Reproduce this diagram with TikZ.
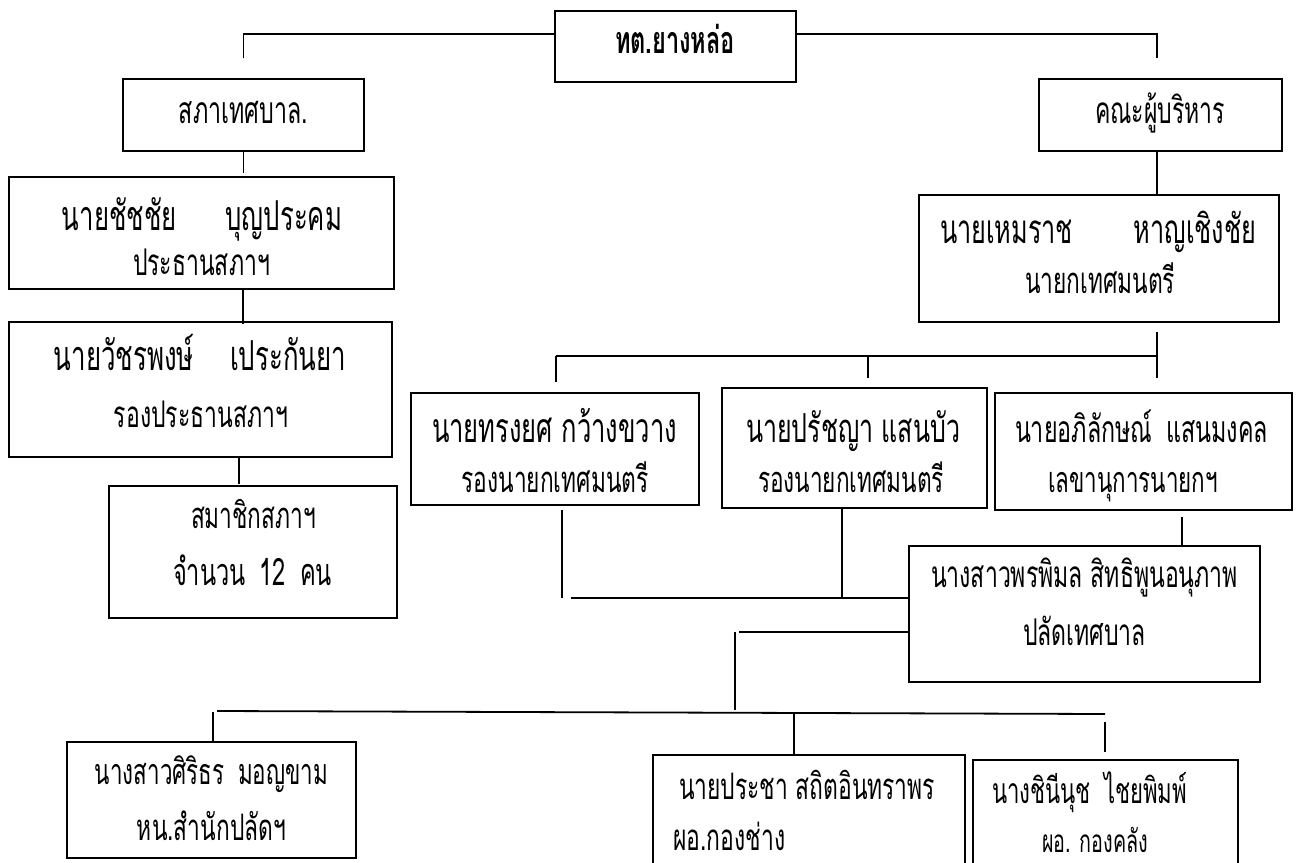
\documentclass[tikz,border=0pt]{standalone}
\usepackage{fontspec}
\usepackage{graphicx}
\newfontfamily\thai[Script=Thai]{Loma}
\newcommand{\fw}[2]{\scalebox{1}[1.6]{\resizebox{#1}{!}{#2}}}
\begin{document}
\begin{tikzpicture}[x=1pt,y=-1pt,
  box/.style={draw,line width=2.2pt,inner sep=0pt},
  conn/.style={line width=1.8pt},
  lbl/.style={font=\thai\fontsize{24}{28}\selectfont,inner sep=0pt,anchor=base}]
\useasboundingbox (0,0) rectangle (1298,862);
\clip (0,0) rectangle (1298,862);
% boxes
\node[box,minimum width=241pt,minimum height=71pt] (top) at (675.5,46.5) {};
\node[box,minimum width=241pt,minimum height=72pt] (sapha) at (243.5,115) {};
\node[box,minimum width=385pt,minimum height=112pt] (chat) at (201.5,233) {};
\node[box,minimum width=383pt,minimum height=135pt] (wat) at (200.5,389.5) {};
\node[box,minimum width=288pt,minimum height=132pt] (member) at (253,552) {};
\node[box,minimum width=243pt,minimum height=72pt] (khana) at (1160.5,115) {};
\node[box,minimum width=360pt,minimum height=127pt] (hem) at (1099,258.5) {};
\node[box,minimum width=288pt,minimum height=112pt] (song) at (555,449) {};
\node[box,minimum width=265pt,minimum height=120pt] (pratch) at (854.5,448) {};
\node[box,minimum width=297pt,minimum height=117pt] (aphi) at (1143.5,451.5) {};
\node[box,minimum width=351pt,minimum height=136pt] (phon) at (1084.5,614) {};
\node[box,minimum width=289pt,minimum height=116pt] (siri) at (211.5,800) {};
\node[box,minimum width=312pt,minimum height=145pt] (pracha) at (809,827.5) {};
\node[box,minimum width=265pt,minimum height=140pt] (chini) at (1105.5,830) {};
% labels
\node[lbl] (t0) at (675,53) {\fw{120pt}{\bfseries ทต.ยางหล่อ}};
\node[lbl] (t1) at (243.5,123) {\fw{129pt}{สภาเทศบาล.}};
\node[lbl] (t2) at (1160,123) {\fw{130pt}{คณะผู้บริหาร}};
\node[lbl] (t3) at (202,230) {\fw{280pt}{นายชัชชัย\hspace{1.9em}บุญประคม}};
\node[lbl] (t4) at (201.5,275) {\fw{137pt}{ประธานสภาฯ}};
\node[lbl] (t5) at (200,370) {\fw{292pt}{นายวัชรพงษ์\hspace{1.4em}เประกันยา}};
\node[lbl] (t6) at (201,427) {\fw{174pt}{รองประธานสภาฯ}};
\node[lbl] (t7) at (253.5,528) {\fw{125pt}{สมาชิกสภาฯ}};
\node[lbl] (t8) at (252.5,585) {\fw{159pt}{จำนวน\hspace{0.6em}12\hspace{0.6em}คน}};
\node[lbl] (t9) at (1098,243) {\fw{316pt}{นายเหมราช\hspace{2.4em}หาญเชิงชัย}};
\node[lbl] (t10) at (1100,293) {\fw{150pt}{นายกเทศมนตรี}};
\node[lbl] (t11) at (554.5,442) {\fw{245pt}{นายทรงยศ กว้างขวาง}};
\node[lbl] (t12) at (555,492) {\fw{187pt}{รองนายกเทศมนตรี}};
\node[lbl] (t13) at (853,442) {\fw{214pt}{นายปรัชญา แสนบัว}};
\node[lbl] (t14) at (851,492) {\fw{186pt}{รองนายกเทศมนตรี}};
\node[lbl] (t15) at (1141.5,442) {\fw{253pt}{นายอภิลักษณ์\hspace{0.6em}แสนมงคล}};
\node[lbl] (t16) at (1133,492) {\fw{170pt}{เลขานุการนายกฯ}};
\node[lbl] (t17) at (1084.5,587) {\fw{307pt}{นางสาวพรพิมล สิทธิพูนอนุภาพ}};
\node[lbl] (t18) at (1084.5,645) {\fw{123pt}{ปลัดเทศบาล}};
\node[lbl] (t19) at (211.5,784) {\fw{233pt}{นางสาวศิริธร\hspace{0.6em}มอญขาม}};
\node[lbl] (t20) at (211.5,840) {\fw{149pt}{หน.สำนักปลัดฯ}};
\node[lbl] (t21) at (807,799) {\fw{256pt}{นายประชา สถิตอินทราพร}};
\node[lbl,anchor=base west] (t22) at (673,850) {\fw{112pt}{ผอ.กองช่าง}};
\node[lbl] (t23) at (1089.5,803) {\fw{195pt}{นางชินีนุช\hspace{0.6em}ไชยพิมพ์}};
\node[lbl] (t24) at (1095,852) {\fw{106pt}{ผอ. กองคลัง}};
% connector coordinates
\coordinate (ty) at (0,34);
\coordinate (lt) at (243.5,58);
\coordinate (rt) at (1157,58);
\coordinate (sa1) at (243.5,173);
\coordinate (ch1) at (243,289);
\coordinate (ch2) at (243,324);
\coordinate (wa1) at (239,457);
\coordinate (wa2) at (239,484);
\coordinate (kh1) at (1157,151);
\coordinate (kh2) at (1157,195);
\coordinate (he1) at (1157,332);
\coordinate (he2) at (1157,378);
\coordinate (hb) at (556,356);
\coordinate (hs) at (556,382);
\coordinate (hm) at (868,356);
\coordinate (hp) at (868,378);
\coordinate (hr) at (1157,356);
\coordinate (so1) at (562,510);
\coordinate (so2) at (562,598);
\coordinate (mb) at (571,598);
\coordinate (pr1) at (842,508);
\coordinate (pr2) at (842,598);
\coordinate (ap1) at (1182,517);
\coordinate (ap2) at (1182,546);
\coordinate (ph1) at (739,632);
\coordinate (pv1) at (735,632);
\coordinate (pv2) at (735,710);
\coordinate (bl) at (217,711);
\coordinate (br) at (1105,714);
\coordinate (bs1) at (213,712);
\coordinate (bs2) at (213,742);
\coordinate (bm1) at (794,713);
\coordinate (bm2) at (794,755);
\coordinate (bc1) at (1105,722);
\coordinate (bc2) at (1105,752);
% connectors
\draw[conn] (lt) |- (top.west |- ty);
\draw[conn] (top.east |- ty) -| (rt);
\draw[conn] (sapha.south) -- (sa1);
\draw[conn] (ch1) -- (ch2);
\draw[conn] (wa1) -- (wa2);
\draw[conn] (kh1) -- (kh2);
\draw[conn] (he1) -- (he2);
\draw[conn] (hb) -- (hr);
\draw[conn] (hb) -- (hs);
\draw[conn] (hm) -- (hp);
\draw[conn] (so1) -- (so2);
\draw[conn] (mb) -- (phon.west |- mb);
\draw[conn] (pr1) -- (pr2);
\draw[conn] (ap1) -- (ap2);
\draw[conn] (phon.west |- ph1) -- (ph1);
\draw[conn] (pv1) -- (pv2);
\draw[conn] (bl) -- (br);
\draw[conn] (bs1) -- (bs2);
\draw[conn] (bm1) -- (bm2);
\draw[conn] (bc1) -- (bc2);
\end{tikzpicture}
\end{document}
